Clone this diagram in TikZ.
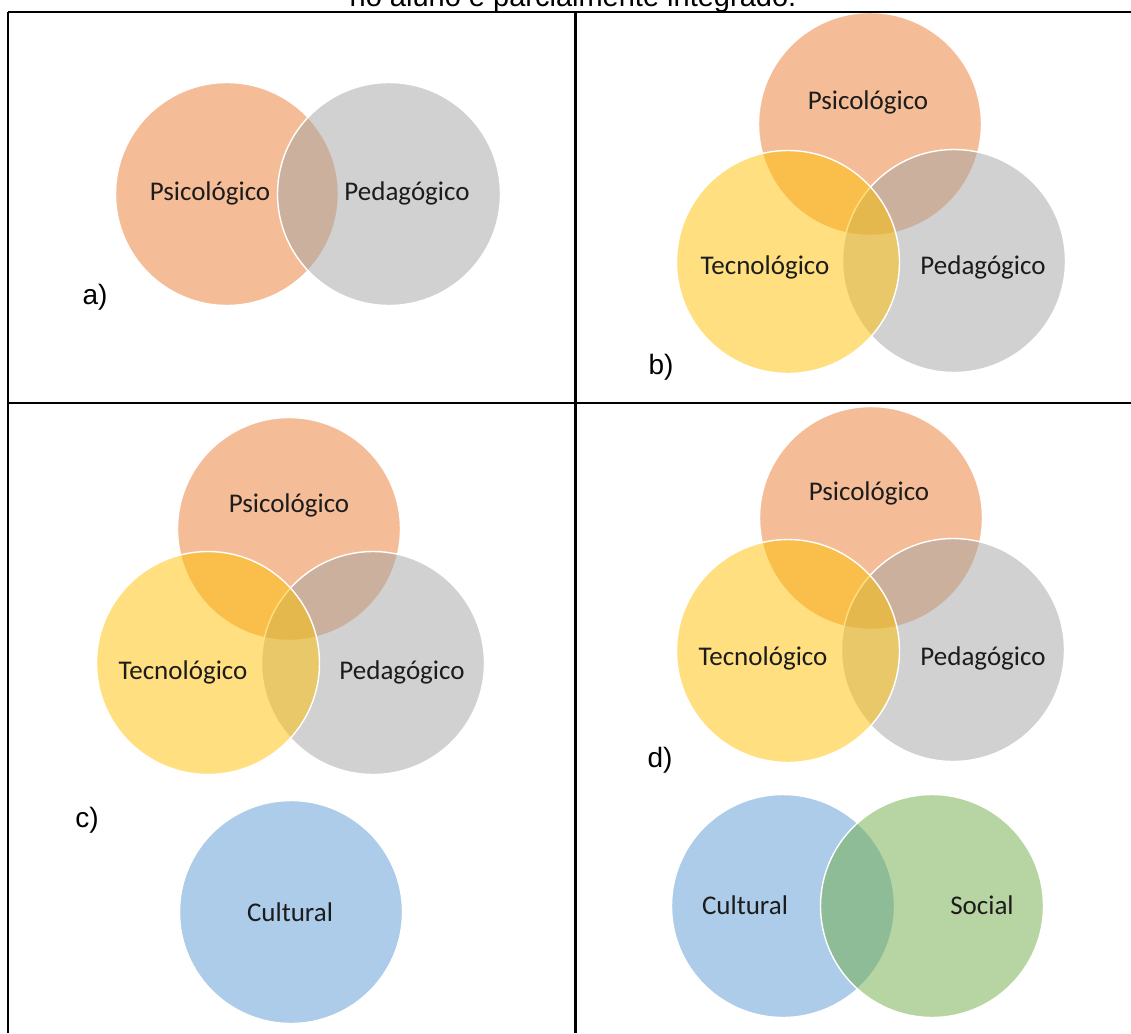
\documentclass[tikz,border=0pt]{standalone}
\usepackage{fontspec}
\setmainfont{Liberation Sans}
\newfontfamily\smartfont{Carlito}
\definecolor{vennOrange}{HTML}{ED7D31}
\definecolor{vennGray}{HTML}{A5A5A5}
\definecolor{vennYellow}{HTML}{FFC000}
\definecolor{vennBlue}{HTML}{5B9BD5}
\definecolor{vennGreen}{HTML}{70AD47}
\definecolor{labelInk}{HTML}{1C1C1C}
\begin{document}
\begin{tikzpicture}[x=1pt,y=-1pt,
  venn/.style={circle, minimum size=223pt, inner sep=0pt, draw=white,
    line width=1.4pt, fill opacity=0.5},
  orangeset/.style={venn, fill=vennOrange},
  grayset/.style={venn, fill=vennGray},
  yellowset/.style={venn, fill=vennYellow},
  blueset/.style={venn, fill=vennBlue},
  greenset/.style={venn, fill=vennGreen},
  setname/.style={font=\smartfont\fontsize{27}{31}\selectfont, text=labelInk, inner sep=0pt},
  panelmark/.style={font=\fontsize{28}{32}\selectfont, inner sep=0pt},
  tablerule/.style={line width=2.5pt, black}]
\clip (0,0) rectangle (1131,1033);
\fill[white] (0,0) rectangle (1131,1033);

% caption line above the table (cut by the page top)
\node[anchor=base, inner sep=0pt, font=\fontsize{29}{33}\selectfont] (caption) at (573,6.5)
  {no aluno é parcialmente integrado.};

% a) two sets
\node[orangeset] (aPsi) at (227,194) {};
\node[grayset]   (aPed) at (389,194) {};
\node[setname] (aPsiT) at (210,193) {Psicológico};
\node[setname] (aPedT) at (407,193) {Pedagógico};
\node[panelmark] (aMark) at (95,297) {a)};

% b) three sets
\node[orangeset] (bPsi) at (870,124) {};
\node[grayset]   (bPed) at (954,261) {};
\node[yellowset] (bTec) at (788,262) {};
\node[setname] (bPsiT) at (868,102) {Psicológico};
\node[setname] (bTecT) at (765,267) {Tecnológico};
\node[setname] (bPedT) at (983,267) {Pedagógico};
\node[panelmark] (bMark) at (661,367) {b)};

% c) three sets plus a separate one
\node[orangeset] (cPsi) at (289,529) {};
\node[grayset]   (cPed) at (373,663) {};
\node[yellowset] (cTec) at (208,663) {};
\node[blueset]   (cCul) at (291,912) {};
\node[setname] (cPsiT) at (289,505) {Psicológico};
\node[setname] (cTecT) at (183,672) {Tecnológico};
\node[setname] (cPedT) at (402,672) {Pedagógico};
\node[setname] (cCulT) at (290,912) {Cultural};
\node[panelmark] (cMark) at (87,820) {c)};

% d) three sets plus an overlapping pair
\node[orangeset] (dPsi) at (871,518) {};
\node[grayset]   (dPed) at (953,650) {};
\node[yellowset] (dTec) at (788,651) {};
\node[blueset]   (dCul) at (783,906) {};
\node[greenset]  (dSoc) at (932,906) {};
\node[setname] (dPsiT) at (869,493) {Psicológico};
\node[setname] (dTecT) at (763,658) {Tecnológico};
\node[setname] (dPedT) at (983,658) {Pedagógico};
\node[setname] (dCulT) at (745,905) {Cultural};
\node[setname] (dSocT) at (982,905) {Social};
\node[panelmark] (dMark) at (660,760) {d)};

% table grid
\draw[tablerule] (8,12) -- (1131,12);
\draw[tablerule] (8,403) -- (1131,403);
\draw[tablerule] (8,12) -- (8,1033);
\draw[tablerule] (575.5,12) -- (575.5,1033);
\end{tikzpicture}
\end{document}
